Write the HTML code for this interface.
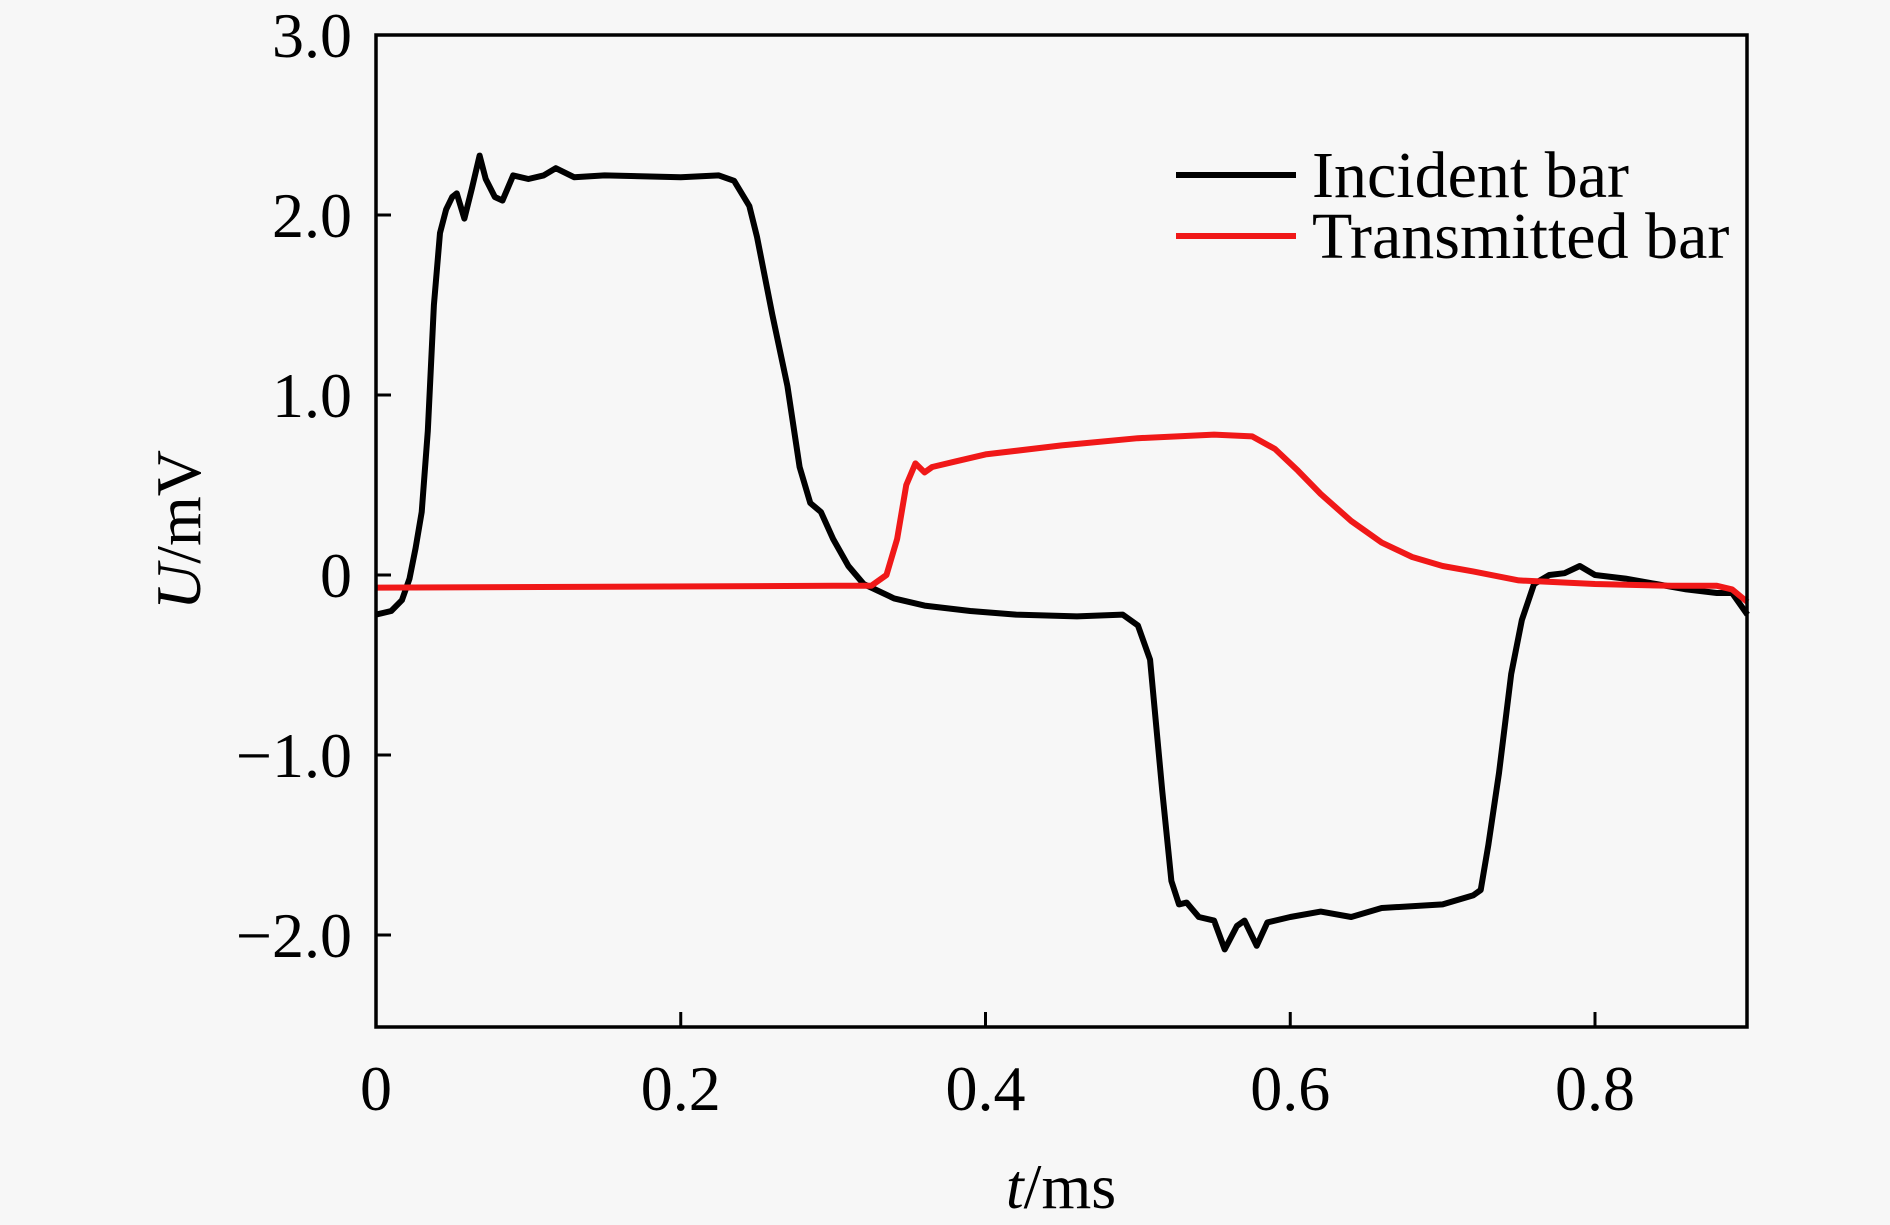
<!DOCTYPE html>
<html><head><meta charset="utf-8"><style>
html,body{margin:0;padding:0;background:#f7f7f7;}
svg{display:block;font-family:"Liberation Serif",serif;}
</style></head><body>
<svg id="chart" width="1890" height="1225" viewBox="0 0 1890 1225">
<g id="marks"></g>
<rect x="376" y="35" width="1371" height="992" fill="none" stroke="#000" stroke-width="3.5"/>
<g id="ticks"></g>
<text x="0" y="0" transform="translate(200,530) rotate(-90)" text-anchor="middle" font-size="64"><tspan font-style="italic">U</tspan>/mV</text>
<text x="1061" y="1208" text-anchor="middle" font-size="64"><tspan font-style="italic">t</tspan>/ms</text>
<g>
<line x1="1176" y1="175" x2="1296" y2="175" stroke="#000" stroke-width="6"/>
<text x="1312" y="197" font-size="66">Incident bar</text>
<line x1="1176" y1="236" x2="1296" y2="236" stroke="#f01818" stroke-width="6"/>
<text x="1312" y="258" font-size="66">Transmitted bar</text>
</g>
</svg>
<script>
const xTicks=[0,0.2,0.4,0.6,0.8];
const xTickLabels=["0","0.2","0.4","0.6","0.8"];
const yTicks=[3,2,1,0,-1,-2];
const yTickLabels=["3.0","2.0","1.0","0","\u22121.0","\u22122.0"];
const incT=[0,0.01,0.017,0.022,0.026,0.03,0.034,0.038,0.042,0.046,0.05,0.053,0.058,0.063,0.068,0.072,0.078,0.083,0.09,0.1,0.11,0.118,0.13,0.15,0.2,0.225,0.235,0.245,0.25,0.26,0.27,0.278,0.285,0.292,0.3,0.31,0.32,0.34,0.36,0.39,0.42,0.46,0.49,0.5,0.508,0.516,0.522,0.527,0.532,0.536,0.54,0.55,0.557,0.565,0.57,0.578,0.585,0.6,0.62,0.64,0.66,0.7,0.72,0.725,0.73,0.737,0.745,0.752,0.76,0.77,0.78,0.79,0.8,0.82,0.84,0.86,0.88,0.89,0.9];
const incU=[-0.22,-0.2,-0.14,-0.02,0.15,0.35,0.8,1.5,1.9,2.03,2.1,2.12,1.98,2.15,2.33,2.2,2.1,2.08,2.22,2.2,2.22,2.26,2.21,2.22,2.21,2.22,2.19,2.05,1.88,1.45,1.05,0.6,0.4,0.35,0.2,0.05,-0.05,-0.13,-0.17,-0.2,-0.22,-0.23,-0.22,-0.28,-0.47,-1.2,-1.7,-1.83,-1.82,-1.86,-1.9,-1.92,-2.08,-1.95,-1.92,-2.06,-1.93,-1.9,-1.87,-1.9,-1.85,-1.83,-1.78,-1.75,-1.5,-1.1,-0.55,-0.25,-0.05,0.0,0.01,0.05,0.0,-0.02,-0.05,-0.08,-0.1,-0.1,-0.22];
const trT=[0,0.3,0.325,0.335,0.342,0.348,0.354,0.36,0.365,0.38,0.4,0.45,0.5,0.55,0.575,0.59,0.605,0.62,0.64,0.66,0.68,0.7,0.72,0.75,0.8,0.85,0.88,0.89,0.9];
const trU=[-0.07,-0.06,-0.06,0.0,0.2,0.5,0.62,0.57,0.6,0.63,0.67,0.72,0.76,0.78,0.77,0.7,0.58,0.45,0.3,0.18,0.1,0.05,0.02,-0.03,-0.05,-0.06,-0.06,-0.08,-0.15];
const X=t=>376+t*1523.75;
const Y=u=>215-(u-2)*180;
const NS="http://www.w3.org/2000/svg";
const marks=document.getElementById('marks'),ticks=document.getElementById('ticks');
function line(ts,us,color,name){
  const p=document.createElementNS(NS,'polyline');
  p.setAttribute('points',ts.map((t,i)=>X(t)+','+Y(us[i])).join(' '));
  p.setAttribute('fill','none');p.setAttribute('stroke',color);p.setAttribute('stroke-width','6');p.setAttribute('stroke-linejoin','round');
  
  
  marks.appendChild(p);
}
line(incT,incU,'#000','incident-bar-line');
line(trT,trU,'#f01818','transmitted-bar-line');
xTicks.forEach((t,i)=>{
  const l=document.createElementNS(NS,'line');
  l.setAttribute('x1',X(t));l.setAttribute('x2',X(t));l.setAttribute('y1',1027);l.setAttribute('y2',1012);l.setAttribute('stroke','#000');l.setAttribute('stroke-width','3');
  
  
  ticks.appendChild(l);
  const tx=document.createElementNS(NS,'text');
  tx.setAttribute('x',X(t));tx.setAttribute('y',1110);tx.setAttribute('text-anchor','middle');tx.setAttribute('font-size','64');
  tx.textContent=xTickLabels[i];
  
  
  ticks.appendChild(tx);
});
yTicks.forEach((u,i)=>{
  const l=document.createElementNS(NS,'line');
  l.setAttribute('x1',376);l.setAttribute('x2',391);l.setAttribute('y1',Y(u));l.setAttribute('y2',Y(u));l.setAttribute('stroke','#000');l.setAttribute('stroke-width','3');
  
  
  ticks.appendChild(l);
  const tx=document.createElementNS(NS,'text');
  tx.setAttribute('x',352);tx.setAttribute('y',Y(u)+22);tx.setAttribute('text-anchor','end');tx.setAttribute('font-size','64');
  tx.textContent=yTickLabels[i];
  
  
  ticks.appendChild(tx);
});
</script>
</body></html>
